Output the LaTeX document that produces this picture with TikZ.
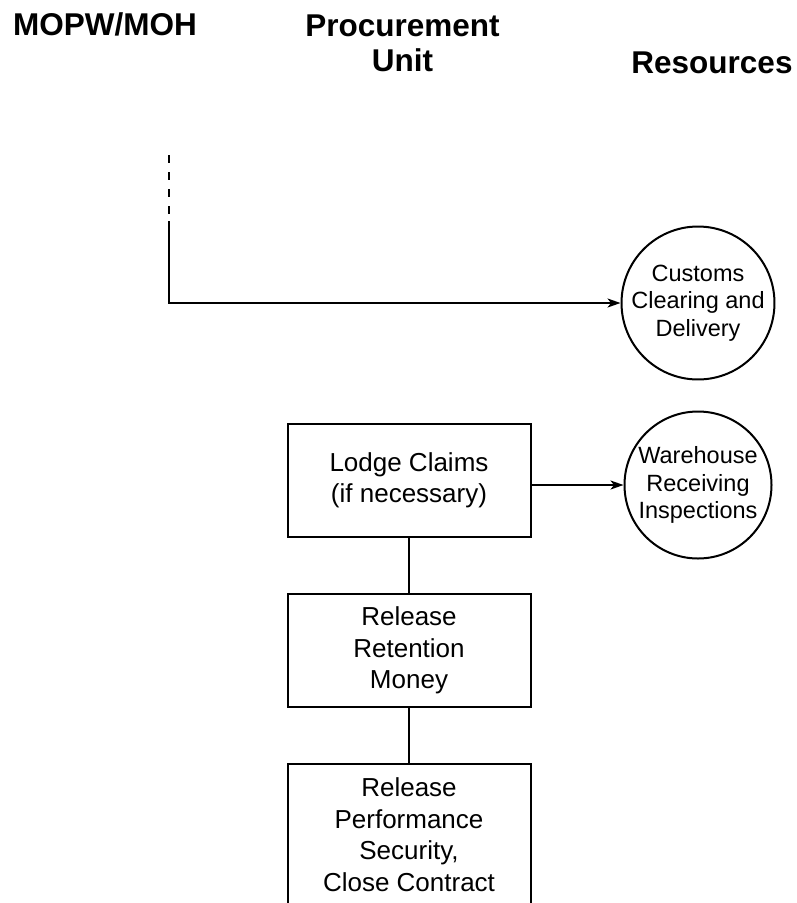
\documentclass[tikz,border=0pt]{standalone}
\usepackage{fontspec}
\setmainfont{Liberation Sans}
\usetikzlibrary{arrows.meta, positioning}

\begin{document}
\begin{tikzpicture}[x=1pt, y=-1pt,
  head/.style={font=\fontsize{31.5}{35}\selectfont\bfseries, inner sep=0pt, align=center},
  task/.style={draw, line width=2pt, font=\fontsize{26}{31.5}\selectfont, align=center,
               minimum width=243pt, minimum height=113pt, inner sep=2pt},
  res/.style ={draw, circle, line width=2pt, font=\fontsize{23.5}{27.5}\selectfont,
               align=center, minimum size=147pt, inner sep=0pt},
  arr/.style={-{Stealth[length=13pt, width=9pt, inset=3.5pt]}, line width=2pt},
  lnk/.style={line width=2pt},
]
\useasboundingbox (0,0) rectangle (797,903);
% Column headings
\node[head, anchor=base west] (mopw) at (13,35)     {MOPW/MOH};
\node[head, anchor=north]     (proc) at (402.5,14.5) {Procurement\\Unit};
\node[head, anchor=base]      (resh) at (712,73)    {Resources};
% Resources (circles)
\node[res] (cust) at (698,303) {Customs\\Clearing and\\Delivery};
\node[res] (ware) at (698,485) {Warehouse\\Receiving\\Inspections};
% Procurement unit steps
\node[task] (lodge) at (409,480.5) {Lodge Claims\\(if necessary)};
\node[task, below=55pt of lodge] (reten) {Release\\Retention\\Money};
\node[task, below=55pt of reten, minimum height=141pt] (close)
     {Release\\Performance\\Security,\\Close Contract};
% Connectors
\coordinate (dtop) at (169,155);
\coordinate (dend) at (169,214);
\coordinate (stop) at (169,221);
\draw[lnk, dash pattern=on 8pt off 9pt] (dtop) -- (dend);
\draw[arr] (stop) |- (cust.west);
\draw[arr] (lodge.east |- ware.west) -- (ware.west);
\draw[lnk] (lodge) -- (reten);
\draw[lnk] (reten) -- (close);
\end{tikzpicture}
\end{document}
